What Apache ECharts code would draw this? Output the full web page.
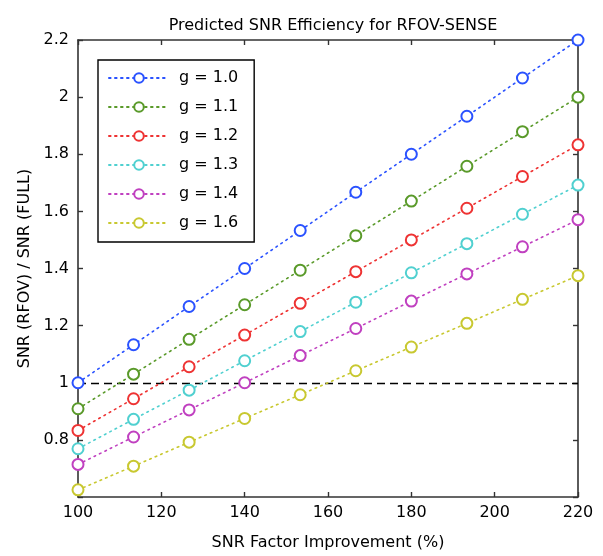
<!DOCTYPE html>
<html>
<head>
<meta charset="utf-8">
<script src="https://cdn.jsdelivr.net/npm/echarts@6/dist/echarts.min.js"></script>
<style>html,body{margin:0;padding:0;background:#fff}#c{width:603px;height:556px}</style>
</head>
<body>
<div id="c"></div>
<script>
var xValues = [100, 113.33, 126.67, 140, 153.33, 166.67, 180, 193.33, 206.67, 220];
var seriesNames = ['g = 1.0', 'g = 1.1', 'g = 1.2', 'g = 1.3', 'g = 1.4', 'g = 1.6'];
var g10 = [1.0, 1.133, 1.267, 1.4, 1.533, 1.667, 1.8, 1.933, 2.067, 2.2];
var g11 = [0.909, 1.03, 1.152, 1.273, 1.394, 1.515, 1.636, 1.758, 1.879, 2.0];
var g12 = [0.833, 0.944, 1.056, 1.167, 1.278, 1.389, 1.5, 1.611, 1.722, 1.833];
var g13 = [0.769, 0.872, 0.974, 1.077, 1.179, 1.282, 1.385, 1.487, 1.59, 1.692];
var g14 = [0.714, 0.81, 0.905, 1.0, 1.095, 1.19, 1.286, 1.381, 1.476, 1.571];
var g16 = [0.625, 0.708, 0.792, 0.875, 0.958, 1.042, 1.125, 1.208, 1.292, 1.375];
var colors = ['#2a52ff', '#5a9a2a', '#ee3333', '#50d0d0', '#c040c0', '#c8c830'];
var allValues = [g10, g11, g12, g13, g14, g16];
var refLine = 1;

var font = 'DejaVu Sans, sans-serif';
var series = allValues.map(function (vals, i) {
  var s = {
    name: seriesNames[i],
    type: 'line',
    data: vals.map(function (v, k) { return [xValues[k], v]; }),
    symbol: 'emptyCircle',
    symbolSize: 11,
    lineStyle: { color: colors[i], width: 1.6, type: [1.6, 4.4], cap: 'round' },
    itemStyle: { color: colors[i], borderColor: colors[i], borderWidth: 1.4 },
    emphasis: { disabled: true },
    z: 3
  };
  if (i === 0) {
    s.markLine = {
      silent: true,
      symbol: ['none', 'none'],
      label: { show: false },
      lineStyle: { color: '#000', width: 1.4, type: [8, 5] },
      data: [{ yAxis: refLine }],
      z: 2
    };
  }
  return s;
});

var axisLine = { show: true, lineStyle: { color: '#333', width: 1.6 } };
var axisTick = { show: true, inside: true, length: 5, lineStyle: { color: '#333', width: 1.4 } };

var option = {
  backgroundColor: '#fff',
  animation: false,
  title: {
    text: 'Predicted SNR Efficiency for RFOV-SENSE',
    left: 328, top: 13, textAlign: 'center',
    textStyle: { fontFamily: font, fontSize: 16, fontWeight: 'normal', color: '#000' }
  },
  grid: { left: 78, right: 25, top: 40, bottom: 57 },
  legend: {
    orient: 'vertical',
    left: 98, top: 60,
    padding: [10, 16, 11, 10],
    itemWidth: 60, itemHeight: 12, itemGap: 13,
    borderColor: '#000', borderWidth: 1.4,
    backgroundColor: '#fff',
    textStyle: { fontFamily: font, fontSize: 16, color: '#000', padding: [0, 0, 0, 5] },
    data: seriesNames
  },
  xAxis: [{
    type: 'value', min: 100, max: 220, interval: 20,
    name: 'SNR Factor Improvement (%)', nameLocation: 'middle', nameGap: 38,
    nameTextStyle: { fontFamily: font, fontSize: 16, color: '#000' },
    axisLine: axisLine, axisTick: axisTick,
    axisLabel: { fontFamily: font, fontSize: 16, color: '#000', margin: 8 },
    splitLine: { show: false }
  }, {
    type: 'value', min: 100, max: 220, interval: 20, position: 'top',
    axisLine: axisLine, axisTick: axisTick, axisLabel: { show: false }, splitLine: { show: false }
  }],
  yAxis: [{
    type: 'value', min: 0.6, max: 2.2, interval: 0.2,
    name: 'SNR (RFOV) / SNR (FULL)', nameLocation: 'middle', nameGap: 45,
    nameTextStyle: { fontFamily: font, fontSize: 16, color: '#000' },
    axisLine: axisLine, axisTick: axisTick,
    axisLabel: { fontFamily: font, fontSize: 16, color: '#000', margin: 9,
      formatter: function (v) { return Math.abs(v - 0.6) < 1e-6 ? '' : String(Math.round(v * 10) / 10); } },
    splitLine: { show: false }
  }, {
    type: 'value', min: 0.6, max: 2.2, interval: 0.2, position: 'right',
    axisLine: axisLine, axisTick: axisTick, axisLabel: { show: false }, splitLine: { show: false }
  }],
  series: series
};
var chart = echarts.init(document.getElementById('c'), null, { renderer: 'canvas' });
chart.setOption(option);
</script>
</body>
</html>
